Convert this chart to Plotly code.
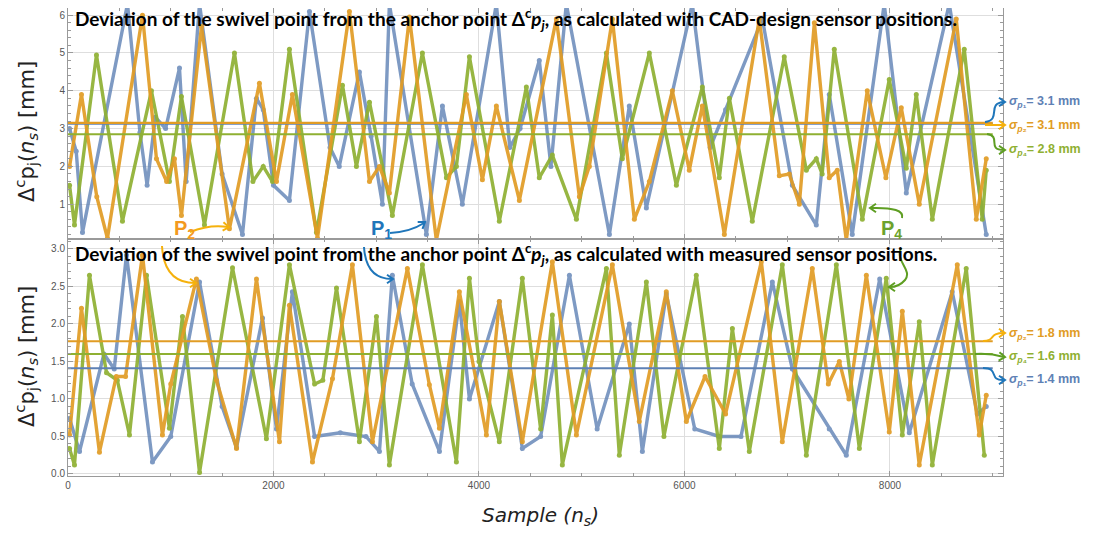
import math
import plotly.graph_objects as go
from plotly.subplots import make_subplots

# ---------------- data ----------------
# Top panel: CAD-design sensor positions (turning points of each band)
top_blue_x = [15,80,141,579,700,770,850,950,1085,1150,1280,1500,1698,1834,1900,2000,2155,2350,2550,2640,2836,2950,3060,3128,3488,3644,3838,4169,4300,4400,4587,4700,4850,5269,5463,5629,6076,6250,6400,6758,7050,7283,7409,7633,7944,8159,8577,8937]
top_blue_y = [3.0,2.4,0.25,6.3,2.9,1.5,3.3,3.0,4.6,1.6,6.3,1.8,0.2,3.8,3.5,1.5,1.1,6.1,2.5,2.0,4.5,2.8,1.0,6.3,0.2,3.6,1.0,6.3,2.5,3.0,4.8,2.0,6.3,0.2,3.6,0.9,6.3,2.5,3.5,5.9,1.5,0.45,3.9,0.2,6.3,1.3,6.3,0.2]

top_orange_x = [15,131,280,384,725,861,960,1036,1104,1299,1571,1863,2029,2184,2428,2739,2934,3031,3128,3323,3585,3877,4033,4169,4393,4753,4977,5074,5298,5512,5658,5882,6047,6174,6388,6728,6923,7020,7118,7264,7409,7487,7575,7779,7960,8110,8285,8645,8840,8937]
top_orange_y = [2.0,3.9,1.2,0.1,6.0,2.2,1.6,2.2,0.7,5.7,0.35,4.2,1.6,3.9,0.1,6.1,1.6,2.0,1.3,5.95,0.05,3.9,1.65,3.6,1.1,5.9,1.2,2.0,5.9,0.6,1.6,4.0,1.9,3.6,0.2,5.9,1.75,1.8,1.0,5.8,1.7,1.9,0.05,4.0,1.7,3.55,1.0,5.9,0.6,2.2]

top_green_x = [15,63,277,530,812,987,1104,1328,1620,1800,1900,1990,2155,2418,2671,2807,2934,3157,3449,3683,3780,3907,4198,4461,4587,4714,4948,5240,5395,5658,5921,6174,6339,6437,6660,6971,7186,7283,7340,7458,7731,7993,8159,8256,8412,8723,8898,8937]
top_green_y = [1.5,0.45,4.95,0.55,4.0,1.6,3.85,0.45,5.0,1.6,2.0,1.6,5.1,0.25,4.15,2.0,3.7,0.7,5.0,1.7,2.0,4.9,0.55,4.1,1.7,2.3,0.6,5.0,2.2,5.0,1.5,4.1,1.7,3.8,0.55,4.9,1.9,2.2,1.8,5.1,0.6,4.3,1.95,3.9,0.6,5.1,0.6,1.9]

# Bottom panel: measured sensor positions
bot_blue_x = [15,112,350,450,569,822,1000,1280,1500,1640,1893,2029,2184,2400,2650,2900,3031,3157,3350,3615,3809,3907,4198,4422,4600,4880,5150,5463,5590,5823,6100,6339,6550,6855,7050,7409,7575,7900,8188,8606,8850,8937]
bot_blue_y = [0.74,0.3,1.6,1.4,2.92,0.16,0.5,2.56,0.9,0.35,2.08,0.6,2.43,0.5,0.55,0.5,0.3,2.65,1.2,0.3,2.3,1.0,2.3,0.34,0.5,2.65,0.6,2.0,0.3,2.4,0.6,0.5,0.5,2.56,1.4,0.6,0.25,2.6,0.55,2.43,0.8,0.9]

bot_orange_x = [15,131,306,470,560,725,919,1000,1250,1445,1640,1834,2058,2155,2379,2574,2768,2963,3303,3517,3615,3809,4072,4198,4422,4714,4948,5298,5560,5823,6018,6200,6400,6748,6952,7244,7400,7507,7600,7770,7993,8120,8285,8655,8869,8937]
bot_orange_y = [0.52,2.21,0.29,1.3,1.3,2.92,0.52,1.2,2.6,1.25,0.34,2.6,0.43,2.25,0.16,1.27,2.79,0.43,2.74,1.19,0.61,2.43,0.52,2.3,0.43,2.83,0.52,2.79,0.7,2.43,0.7,1.3,0.8,2.83,0.43,2.74,1.2,1.5,1.0,2.65,0.56,2.17,0.12,2.79,0.52,1.05]

bot_green_x = [15,63,209,375,480,598,764,987,1114,1280,1601,1931,2155,2400,2480,2613,2836,3002,3128,3449,3780,3907,4000,4198,4422,4600,4714,4811,5240,5366,5629,5800,6115,6339,6466,6631,6952,7186,7478,7702,7964,8120,8285,8412,8742,8918]
bot_green_y = [0.34,0.12,2.65,1.35,1.25,0.52,2.65,0.61,2.1,0.02,2.75,0.47,2.79,1.2,1.25,2.48,0.43,2.1,0.12,2.79,0.16,2.61,1.5,0.43,2.61,0.6,2.12,0.12,2.74,0.25,2.56,0.5,2.65,0.34,1.94,0.3,2.79,0.25,2.79,0.34,2.61,0.52,2.03,0.12,2.74,0.25]

# standard-deviation levels (line positions as read) and labels
sigma_top_lines = {"P1": 3.13, "P2": 3.15, "P4": 2.85}
sigma_bot_lines = {"P1": 1.41, "P2": 1.77, "P4": 1.60}
sigma_top_labels = {"P1": "3.1", "P2": "3.1", "P4": "2.8"}
sigma_bot_labels = {"P1": "1.4", "P2": "1.8", "P4": "1.6"}
sigma_line_end = 9000

x_ticks = [0, 2000, 4000, 6000, 8000]

# ---------------- styling ----------------
C_BLUE = "#5E81B5"
C_ORANGE = "#E19C24"
C_GREEN = "#8FB032"
A_BLUE = "#1F76BA"
A_ORANGE = "#F5B10C"
A_GREEN = "#5E9E22"

PAGE_OFF = 8                       # default body margin of the page
W, H = 1096 - PAGE_OFF, 539 - PAGE_OFF
# plot-area edges in page pixels
L, R, T, B = 68, 1003, 8, 476
SPLIT = 239

def px(x):
    return (x - L) / (R - L)

def py(y):
    return (B - y) / (B - T)

def pt(x, y):
    return f"{px(x):.5f},{py(y):.5f}"

fig = make_subplots(rows=2, cols=1, shared_xaxes=True, vertical_spacing=0)

series_top = [(top_blue_x, top_blue_y, C_BLUE, 0.8), (top_green_x, top_green_y, C_GREEN, 0.92), (top_orange_x, top_orange_y, C_ORANGE, 0.92)]
series_bot = [(bot_blue_x, bot_blue_y, C_BLUE, 0.8), (bot_green_x, bot_green_y, C_GREEN, 0.92), (bot_orange_x, bot_orange_y, C_ORANGE, 0.92)]

for row, series in ((1, series_top), (2, series_bot)):
    for xs, ys, c, op in series:
        fig.add_trace(go.Scatter(x=xs, y=ys, mode="lines+markers",
                                 line=dict(color=c, width=3.4),
                                 marker=dict(color=c, size=5),
                                 opacity=op, showlegend=False, hoverinfo="skip"),
                      row=row, col=1)

col_of = {"P1": C_BLUE, "P2": C_ORANGE, "P4": C_GREEN}
for row, lv in ((1, sigma_top_lines), (2, sigma_bot_lines)):
    for k in ("P1", "P4", "P2"):
        fig.add_trace(go.Scatter(x=[0, sigma_line_end], y=[lv[k], lv[k]], mode="lines",
                                 line=dict(color=col_of[k], width=2.2),
                                 showlegend=False, hoverinfo="skip"), row=row, col=1)

axis_common = dict(showline=True, linecolor="#9a9a9a", linewidth=1, mirror="ticks",
                   ticks="inside", ticklen=5, tickcolor="#9a9a9a",
                   showgrid=True, gridcolor="#dedede", gridwidth=1, zeroline=False,
                   tickfont=dict(family="Liberation Sans Narrow, Liberation Sans", size=10, color="#555"))

fig.update_xaxes(range=[0, 9100], tickvals=x_ticks,
                 minor=dict(ticks="inside", ticklen=3, dtick=500, tick0=0, tickcolor="#9a9a9a", showgrid=False),
                 **axis_common)
fig.update_xaxes(showticklabels=False, row=1, col=1)
fig.update_xaxes(showticklabels=True, row=2, col=1)

fig.update_yaxes(**axis_common)
fig.update_yaxes(range=[0.08, 6.19], dtick=1, tick0=0,
                 minor=dict(ticks="inside", ticklen=3, dtick=0.2, tick0=0, tickcolor="#9a9a9a", showgrid=False),
                 domain=[py(SPLIT), 1], row=1, col=1)
fig.update_yaxes(range=[-0.027, 3.133], dtick=0.5, tick0=0, tickformat=".1f",
                 minor=dict(ticks="inside", ticklen=3, dtick=0.1, tick0=0, tickcolor="#9a9a9a", showgrid=False),
                 domain=[0, py(SPLIT)], row=2, col=1)

ann = []
# panel titles
title_font = dict(family="Lato, Open Sans, sans-serif", size=19, color="black")
ann.append(dict(x=px(73), y=py(19), xref="paper", yref="paper", xanchor="left", yanchor="middle", showarrow=False,
                text="<b>Deviation of the swivel point from the anchor point Δ<sup>c</sup><i>p<sub>j</sub></i>, as calculated with CAD-design sensor positions.</b>",
                font=title_font))
ann.append(dict(x=px(73), y=py(254), xref="paper", yref="paper", xanchor="left", yanchor="middle", showarrow=False,
                text="<b>Deviation of the swivel point from the anchor point Δ<sup>c</sup><i>p<sub>j</sub></i>, as calculated with measured sensor positions.</b>",
                font=title_font))
# y-axis titles
for yc in (132, 357):
    ann.append(dict(x=px(26), y=py(yc), xref="paper", yref="paper", xanchor="center", yanchor="middle",
                    showarrow=False, textangle=-90,
                    text="Δ<sup>c</sup>p<sub>j</sub>(<i>n<sub>s</sub></i>) [mm]",
                    font=dict(family="DejaVu Sans", size=21, color="#222")))
# x-axis title
ann.append(dict(x=px(540), y=py(516), xref="paper", yref="paper", xanchor="center", yanchor="middle",
                showarrow=False, text="<i>Sample (n<sub>s</sub>)</i>",
                font=dict(family="DejaVu Sans", size=20, color="#222")))

SUB = {"P1": "₁", "P2": "₂", "P4": "₄"}

def sig_label(k, val, ypix):
    return dict(x=px(1007), y=py(ypix), xref="paper", yref="paper", xanchor="left", yanchor="middle", showarrow=False,
                text=f"<b><i>σ</i><sub><i>p</i>{SUB[k]}</sub>= {val} mm</b>",
                font=dict(family="Liberation Sans", size=12.5, color=col_of[k]))

ann.append(sig_label("P1", sigma_top_labels["P1"], 102))
ann.append(sig_label("P2", sigma_top_labels["P2"], 126))
ann.append(sig_label("P4", sigma_top_labels["P4"], 150))
ann.append(sig_label("P2", sigma_bot_labels["P2"], 334))
ann.append(sig_label("P4", sigma_bot_labels["P4"], 357))
ann.append(sig_label("P1", sigma_bot_labels["P1"], 380))

# P labels
def pfont(c):
    return dict(family="Liberation Sans", size=20, color=c)

ann.append(dict(x=px(172), y=py(229), xref="paper", yref="paper", showarrow=False, text="<b>P<sub>2</sub></b>", font=pfont("#F39A1E")))
ann.append(dict(x=px(369), y=py(229), xref="paper", yref="paper", showarrow=False, text="<b>P<sub>1</sub></b>", font=pfont(A_BLUE)))
ann.append(dict(x=px(904), y=py(229), xref="paper", yref="paper", showarrow=False, text="<b>P<sub>4</sub></b>", font=pfont("#6CA22C")))

shapes = []

def path(d, color, w=2):
    shapes.append(dict(type="path", xref="paper", yref="paper", path=d,
                       line=dict(color=color, width=w), fillcolor="rgba(0,0,0,0)", layer="above"))

def head(tip, dirx, diry, color, size=6):
    n = math.hypot(dirx, diry)
    ux, uy = dirx / n, diry / n
    bx, by = tip[0] - ux * size, tip[1] - uy * size
    nx, ny = -uy, ux
    a = (bx + nx * size * 0.7, by + ny * size * 0.7)
    b = (bx - nx * size * 0.7, by - ny * size * 0.7)
    path(f"M {pt(*a)} L {pt(*tip)} L {pt(*b)}", color)

# P2 arrows
path(f"M {pt(190,232)} Q {pt(210,224)} {pt(228,227)}", A_ORANGE)
head((229, 227), 1, 0.1, A_ORANGE)
path(f"M {pt(162,246)} Q {pt(164,283)} {pt(195,283)}", A_ORANGE)
head((196, 283), 1, 0, A_ORANGE)
# P1 arrows
path(f"M {pt(390,233)} Q {pt(410,232)} {pt(424,223)}", A_BLUE)
head((425, 222), 1, -0.7, A_BLUE)
path(f"M {pt(364,247)} Q {pt(366,279)} {pt(392,279)}", A_BLUE)
head((393, 279), 1, 0, A_BLUE)
# P4 arrows
path(f"M {pt(902,218)} Q {pt(905,207)} {pt(871,208)}", A_GREEN)
head((870, 208), -1, 0, A_GREEN)
path(f"M {pt(901,248)} C {pt(895,262)} {pt(913,270)} {pt(905,280)} Q {pt(899,287)} {pt(890,287)}", A_GREEN)
head((889, 287), -1, 0, A_GREEN)

# sigma arrows, top
path(f"M {pt(985,122)} C {pt(1002,120)} {pt(986,103)} {pt(1004,102)}", A_BLUE)
head((1005, 102), 1, 0, A_BLUE)
path(f"M {pt(985,125)} L {pt(1004,125)}", A_ORANGE)
head((1005, 125), 1, 0, A_ORANGE)
path(f"M {pt(987,134)} C {pt(1002,136)} {pt(986,150)} {pt(1004,150)}", A_GREEN)
head((1005, 150), 1, 0, A_GREEN)
# sigma arrows, bottom
path(f"M {pt(983,341)} C {pt(996,341)} {pt(988,333)} {pt(1004,333)}", A_ORANGE)
head((1005, 333), 1, 0, A_ORANGE)
path(f"M {pt(975,354)} Q {pt(990,353)} {pt(1004,357)}", A_GREEN)
head((1005, 357), 1, 0.1, A_GREEN)
path(f"M {pt(983,368)} C {pt(1000,368)} {pt(988,381)} {pt(1004,380)}", A_BLUE)
head((1005, 380), 1, 0, A_BLUE)

fig.update_layout(width=W, height=H, margin=dict(l=L - PAGE_OFF, r=W - (R - PAGE_OFF), t=T - PAGE_OFF, b=H - (B - PAGE_OFF)),
                  plot_bgcolor="white", paper_bgcolor="white",
                  annotations=ann, shapes=shapes, showlegend=False)

fig.write_html("out.html")
